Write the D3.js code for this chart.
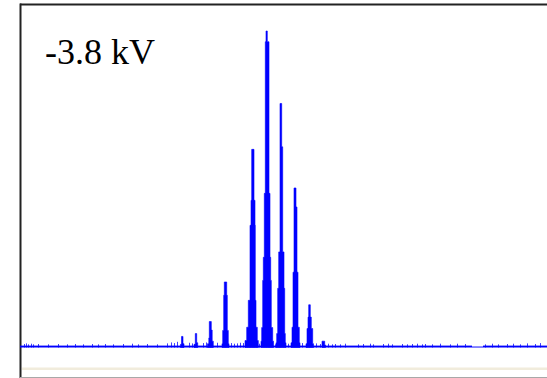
<!DOCTYPE html>
<html lang="en">
<head>
<meta charset="UTF-8">
<script src="https://d3js.org/d3.v7.min.js"></script>
<title>-3.8 kV spectrum</title>
<style>
  body { margin: 0; background: #fff; }
  svg { display: block; }
</style>
</head>
<body>
<svg id="chart" width="547" height="378"></svg>
<script>
// label of the trace
var label = "-3.8 kV";

// x in channels (0 .. 527), intensity in % of the tallest peak
var channelRange = [0, 527];
var baseLevel = 0.6;

// baseline segments [from, to, level]
var baseline = [
  [0, 452, 0.6],
  [452, 463, 0.3],
  [463, 527, 0.6]
];

// each peak as steps [channel, intensity]
var peaks = [
  [[160.5, 1.0], [161.5, 3.5], [163, 1.2], [164, 0.4]],
  [[174, 1.0], [175.3, 4.4], [176.7, 1.5], [177.7, 0.4]],
  [[187.5, 1.2], [188.8, 3.0], [189.3, 8.2], [191.3, 5.5], [192.2, 2.0], [193.3, 0.4]],
  [[202, 1.2], [202.7, 5.4], [203.7, 16.5], [204.3, 20.7], [206.7, 16.5], [207.3, 5.4], [208.3, 1.2], [209, 0.4]],
  [[225, 2.2], [226.7, 6.4], [228.3, 14.9], [230, 38.6], [231, 46.5], [231.7, 62.6], [234, 46.5], [235, 38.6], [235.3, 14.9], [236, 6.4], [237.3, 2.2], [238.3, 0.4]],
  [[241, 2.0], [241.7, 6.3], [242.7, 21.2], [243.3, 28.5], [244.3, 48.7], [245.3, 96.6], [246, 100], [247.3, 96.6], [249, 48.7], [250, 28.5], [250.7, 21.2], [251.3, 6.3], [252.7, 2.0], [253.5, 0.4]],
  [[256, 1.5], [256.7, 4.4], [257.7, 18.7], [258.7, 30.2], [260, 77.1], [261.7, 63.4], [262.7, 30.2], [264, 18.7], [264.7, 4.4], [265.3, 1.5], [266, 0.4]],
  [[271, 1.5], [272, 6.4], [273, 23.8], [274, 50.4], [276, 44.4], [277, 23.8], [278, 6.4], [279.3, 1.5], [280, 0.4]],
  [[286, 1.2], [287, 6.0], [288, 9.6], [288.7, 13.5], [290.3, 9.6], [291.3, 6.0], [292.7, 1.2], [293.5, 0.4]],
  [[302, 2.0], [304.7, 0.8], [305.5, 0.4]]
];

// small noise spikes on the baseline [channel, intensity]
var noise = [
  [4, 1.1], [6, 1.3], [8, 1.0], [11, 1.2], [13, 1.0], [18, 1.1], [28, 1.0], [38, 1.1],
  [47, 1.0], [55, 1.1], [63, 1.0], [72, 1.1], [78, 1.0], [85, 1.1], [93, 1.0], [103, 1.1],
  [112, 1.2], [118, 1.0], [127, 1.1], [137, 1.0], [147, 1.3], [151, 1.6], [154, 1.4],
  [157, 1.8], [169, 1.5], [172, 1.3], [183, 1.4], [186, 1.6], [197, 1.5], [211, 1.4],
  [214, 1.2], [217, 1.3], [220, 1.5], [223, 1.4], [239, 1.2], [255, 1.0], [268, 1.2],
  [282, 1.4], [296, 1.3], [300, 1.1], [308, 1.2], [312, 1.0], [315, 1.1], [320, 1.0],
  [325, 1.2], [338, 1.0], [343, 1.1], [350, 1.2], [353, 1.0], [363, 1.1], [368, 1.2],
  [372, 1.0], [382, 1.1], [387, 1.0], [392, 1.1], [397, 1.2], [402, 1.0], [405, 1.1],
  [412, 1.0], [420, 1.2], [430, 1.0], [437, 1.2], [445, 1.1], [465, 1.0], [472, 1.2],
  [478, 1.0], [487, 1.1], [493, 1.2], [500, 1.0], [507, 1.3], [515, 1.1], [520, 1.4]
];

var svg = d3.select("#chart");
var plotLeft = 20, plotRight = 547, plotTop = 31, plotBottom = 347.5;

var x = d3.scaleLinear().domain(channelRange).range([plotLeft, plotRight]);
var y = d3.scaleLinear().domain([0, 100]).range([plotBottom, plotTop]);

var blue = "#0000ff";

// frame
svg.append("line").attr("x1", plotLeft).attr("x2", plotRight).attr("y1", 4.5).attr("y2", 4.5)
  .attr("stroke", "#222").attr("stroke-width", 2);
svg.append("line").attr("x1", plotLeft + 0.5).attr("x2", plotLeft + 0.5).attr("y1", 3.5).attr("y2", 378)
  .attr("stroke", "#222").attr("stroke-width", 2);
svg.append("rect").attr("x", plotLeft + 2).attr("y", 367.5).attr("width", plotRight - plotLeft).attr("height", 2.5)
  .attr("fill", "#f1ecdc");
svg.append("line").attr("x1", plotLeft).attr("x2", plotRight).attr("y1", 377.5).attr("y2", 377.5)
  .attr("stroke", "#a8a8a8").attr("stroke-width", 1);

// baseline
svg.append("g").selectAll("rect")
  .data(baseline)
  .enter().append("rect")
    .attr("x", function(d) { return x(d[0]); })
    .attr("width", function(d) { return x(d[1]) - x(d[0]); })
    .attr("y", function(d) { return y(d[2]); })
    .attr("height", function(d) { return y(0) - y(d[2]); })
    .attr("fill", blue);

// noise spikes
svg.append("g").selectAll("rect")
  .data(noise)
  .enter().append("rect")
    .attr("x", function(d) { return x(d[0]); })
    .attr("width", 1)
    .attr("y", function(d) { return y(d[1]); })
    .attr("height", function(d) { return y(0) - y(d[1]); })
    .attr("fill", blue)
    .attr("opacity", 0.75);

// peaks
var area = d3.area()
  .curve(d3.curveStepAfter)
  .x(function(d) { return x(d[0]); })
  .y0(y(0))
  .y1(function(d) { return y(d[1]); });

svg.append("g").selectAll("path")
  .data(peaks)
  .enter().append("path")
    .attr("d", function(d) { return area([[d[0][0], baseLevel]].concat(d)); })
    .attr("fill", blue)
    .attr("stroke", blue)
    .attr("stroke-width", 0.6);

// label
svg.append("text")
  .attr("x", 45)
  .attr("y", 64)
  .attr("font-family", "'Liberation Serif', 'Times New Roman', serif")
  .attr("font-size", 36)
  .attr("fill", "#000")
  .text(label);
</script>
</body>
</html>
